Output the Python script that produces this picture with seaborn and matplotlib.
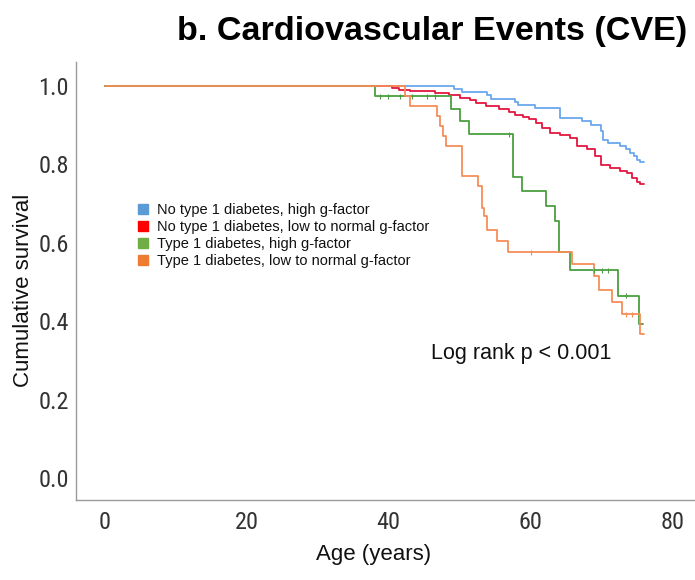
import numpy as np
import pandas as pd
import matplotlib
matplotlib.use("Agg")
import matplotlib.pyplot as plt
from matplotlib.lines import Line2D
from matplotlib import font_manager
import seaborn as sns

# ---------------- data ----------------
groups = [
    "No type 1 diabetes, high g-factor",
    "No type 1 diabetes, low to normal g-factor",
    "Type 1 diabetes, high g-factor",
    "Type 1 diabetes, low to normal g-factor",
]

blue_t = [0, 49.2, 50.3, 53.8, 54.4, 57.8, 58.3, 60.7, 64.2, 67.3, 68.6, 69.9,
          70.2, 70.9, 72.6, 73.4, 74.0, 74.6, 75.0, 75.5, 76.0]
blue_s = [1.0, 0.993, 0.985, 0.976, 0.967, 0.959, 0.952, 0.944, 0.918, 0.910, 0.901, 0.885,
          0.863, 0.855, 0.846, 0.838, 0.829, 0.821, 0.812, 0.805, 0.805]

red_t = [0, 40.5, 41.5, 43.0, 46.5, 48.5, 50.0, 51.5, 52.3, 53.7, 55.5, 57.0, 57.8,
         59.0, 59.8, 60.8, 61.6, 62.8, 64.2, 65.6, 66.5, 67.9, 69.1, 70.0, 71.2,
         72.6, 73.6, 74.3, 75.0, 75.5, 76.0]
red_s = [1.0, 0.995, 0.990, 0.986, 0.982, 0.978, 0.970, 0.963, 0.957, 0.950, 0.941, 0.933, 0.927,
         0.921, 0.916, 0.905, 0.893, 0.880, 0.874, 0.867, 0.846, 0.838, 0.821, 0.799, 0.791,
         0.782, 0.777, 0.765, 0.755, 0.749, 0.749]

green_t = [0, 38.1, 48.8, 50.1, 51.3, 57.5, 58.8, 62.2, 63.5, 64.0, 65.6, 72.3, 75.3, 75.8]
green_s = [1.0, 0.974, 0.940, 0.910, 0.877, 0.767, 0.731, 0.693, 0.655, 0.577, 0.530, 0.465, 0.392, 0.392]

orange_t = [0, 42.3, 43.0, 46.8, 47.3, 47.6, 48.1, 50.4, 52.6, 53.1, 53.4, 53.8, 55.3,
            56.8, 65.9, 69.0, 69.6, 71.5, 72.9, 75.5, 76.0]
orange_s = [1.0, 0.975, 0.950, 0.924, 0.897, 0.872, 0.847, 0.769, 0.744, 0.688, 0.667, 0.633, 0.605,
            0.576, 0.545, 0.514, 0.480, 0.449, 0.418, 0.368, 0.368]

# censoring marks (times)
green_cens = [38.8, 39.9, 41.6, 43.3, 45.4, 46.6, 56.9, 68.9, 70.1, 71.0, 73.4]
orange_cens = [60.0, 73.4, 74.3]

x_ticks = [0, 20, 40, 60, 80]
y_ticks = [0.0, 0.2, 0.4, 0.6, 0.8, 1.0]

line_colors = ["#6aa8ee", "#e2173f", "#4b9e40", "#f68d57"]
legend_colors = ["#5b9bd5", "#ff0000", "#70ad47", "#ed7d31"]

# ---------------- frame ----------------
series = [(blue_t, blue_s), (red_t, red_s), (green_t, green_s), (orange_t, orange_s)]
rows = []
for g, (t, s) in zip(groups, series):
    for ti, si in zip(t, s):
        rows.append({"group": g, "age": ti, "surv": si})
df = pd.DataFrame(rows)


def step_value(t, s, x):
    idx = np.searchsorted(np.asarray(t), x, side="right") - 1
    return s[idx]


cens_rows = []
for g, (t, s), cens in [(groups[2], series[2], green_cens), (groups[3], series[3], orange_cens)]:
    for c in cens:
        cens_rows.append({"group": g, "age": c, "surv": step_value(t, s, c)})
cdf = pd.DataFrame(cens_rows)

sns.set_theme(style="white")
plt.rcParams["font.family"] = ["Liberation Sans", "DejaVu Sans"]

# choose a narrow face for tick labels if one is installed
available = {f.name for f in font_manager.fontManager.ttflist}
narrow = None
for cand in ["Liberation Sans Narrow", "DejaVu Sans Condensed", "Roboto Condensed",
             "Open Sans Condensed", "Noto Sans Condensed"]:
    if cand in available:
        narrow = cand
        break
if narrow is None:
    for f in font_manager.fontManager.ttflist:
        if "ondensed" in f.fname or "Narrow" in f.fname:
            narrow = f.name
            break
if narrow is not None:
    tick_font = [narrow, "DejaVu Sans"]
    tick_size = 17.5
    tick_stretch = "condensed"
else:
    tick_font = ["Liberation Sans", "DejaVu Sans"]
    tick_size = 15.5
    tick_stretch = "normal"

fig = plt.figure(figsize=(6.95, 5.8), dpi=100)
ax = fig.add_axes([76 / 695, 1 - 500 / 580, (695 - 76) / 695, (500 - 62) / 580])

palette = dict(zip(groups, line_colors))
sns.lineplot(data=df, x="age", y="surv", hue="group", palette=palette,
             estimator=None, sort=True, drawstyle="steps-post",
             linewidth=1.3, legend=False, ax=ax)
sns.scatterplot(data=cdf, x="age", y="surv", hue="group", palette=palette,
                marker="|", s=14, linewidth=0.8, legend=False, ax=ax, zorder=3)

ax.set_xlim(-4.1, 83.2)
ax.set_ylim(-0.056, 1.061)
ax.set_xticks(x_ticks)
ax.set_yticks(y_ticks)
ax.set_xticklabels([str(v) for v in x_ticks])
ax.set_yticklabels([f"{v:.1f}" for v in y_ticks])
for lab in ax.get_xticklabels() + ax.get_yticklabels():
    lab.set_family(tick_font)
    lab.set_fontsize(tick_size)
    lab.set_fontstretch(tick_stretch)
    lab.set_fontweight("normal")
    lab.set_color("#333333")
ax.tick_params(axis="both", length=0)
ax.tick_params(axis="y", pad=5)
ax.tick_params(axis="x", pad=8)

for side in ["top", "right"]:
    ax.spines[side].set_visible(False)
for side in ["left", "bottom"]:
    ax.spines[side].set_color("#9a9a9a")
    ax.spines[side].set_linewidth(1.0)

ax.set_xlabel("Age (years)", fontsize=16, color="#111111")
ax.set_ylabel("Cumulative survival", fontsize=16, color="#111111")
ax.xaxis.set_label_coords((374 - 76) / 619, -0.100)
ax.yaxis.set_label_coords(-0.068, 0.479)

ax.text(46.0, 0.304, "Log rank p < 0.001", fontsize=15.5, color="#111111", va="baseline", ha="left")

handles = [Line2D([0], [0], marker="s", linestyle="none", markersize=6.5,
                  markerfacecolor=c, markeredgecolor=c) for c in legend_colors]
leg = fig.legend(handles, groups, loc="upper left", bbox_to_anchor=(137 / 695, 1 - 203 / 580),
                 frameon=False, fontsize=10.5, handlelength=0.8, handletextpad=0.6,
                 labelspacing=0.2, borderpad=0, borderaxespad=0)
for t in leg.get_texts():
    t.set_color("#111111")

fig.text(687 / 695, 1 - 40 / 580, "b. Cardiovascular Events (CVE)", fontsize=24.6,
         fontweight="bold", ha="right", va="baseline", color="#000000")

fig.savefig("out.png", dpi=100)
